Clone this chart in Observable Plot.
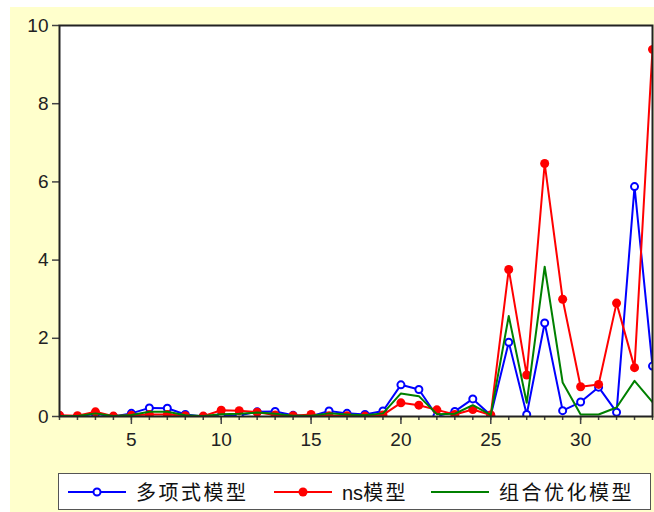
<!DOCTYPE html>
<html>
<head>
<meta charset="utf-8">
<script src="https://cdn.jsdelivr.net/npm/d3@7"></script>
<script src="https://cdn.jsdelivr.net/npm/@observablehq/plot@0.6"></script>
<style>
  body { margin: 0; background: #ffffff; }
  #panel { position: absolute; left: 10px; top: 7px; width: 644px; height: 505px; background: #FFFFCC; }
  #chart { position: absolute; left: 0; top: 0; }
  #legend {
    position: absolute; left: 48px; top: 466px; width: 591px; height: 35px;
    background: #ffffff; border: 1.5px solid #555555;
    font-family: "Liberation Sans", "Noto Sans CJK SC", sans-serif; font-size: 20px;
    color: #111;
  }
  .item { position: absolute; top: 0; height: 35px; display: flex; align-items: center; }
  .item svg { display: block; }
  .item span { margin-left: 10px; white-space: nowrap; }
  .cjk { letter-spacing: 2.5px; }
</style>
</head>
<body>
<div id="panel">
  <div id="chart"></div>
  <div id="legend"></div>
</div>
<script>
// Period index along the x axis
const periods = [1, 2, 3, 4, 5, 6, 7, 8, 9, 10, 11, 12, 13, 14, 15, 16, 17,
                 18, 19, 20, 21, 22, 23, 24, 25, 26, 27, 28, 29, 30, 31, 32, 33, 34];

// Series names
const seriesNames = ["多项式模型", "ns模型", "组合优化模型"];

// 多项式模型
const polyValues = [0.02, 0.00, 0.07, 0.00, 0.08, 0.22, 0.21, 0.05, 0.00, 0.02, 0.03, 0.12,
                    0.13, 0.03, 0.01, 0.14, 0.08, 0.05, 0.14, 0.81, 0.69, 0.01, 0.13, 0.45,
                    0.03, 1.90, 0.05, 2.39, 0.15, 0.37, 0.75, 0.11, 5.88, 1.29];
// ns模型
const nsValues = [0.03, 0.02, 0.12, 0.01, 0.03, 0.05, 0.05, 0.02, 0.01, 0.16, 0.15, 0.11,
                  0.04, 0.02, 0.05, 0.02, 0.02, 0.01, 0.04, 0.35, 0.29, 0.17, 0.05, 0.18,
                  0.04, 3.76, 1.06, 6.47, 3.00, 0.76, 0.82, 2.90, 1.25, 9.39];
// 组合优化模型
const comboValues = [0.01, 0.01, 0.08, 0.01, 0.04, 0.12, 0.12, 0.03, 0.01, 0.06, 0.07, 0.10,
                     0.07, 0.02, 0.02, 0.08, 0.05, 0.03, 0.08, 0.59, 0.52, 0.06, 0.07, 0.29,
                     0.04, 2.57, 0.35, 3.83, 0.87, 0.05, 0.05, 0.23, 0.91, 0.37];

const yTicks = [0, 2, 4, 6, 8, 10];
const xLabelTicks = [5, 10, 15, 20, 25, 30];

const colors = ["#0000FF", "#FF0000", "#008000"];

const toRows = (vals) => periods.map((p, i) => ({x: p, y: vals[i]}));
const poly = toRows(polyValues);
const ns = toRows(nsValues);
const combo = toRows(comboValues);

const chart = Plot.plot({
  width: 644,
  height: 460,
  marginLeft: 49,
  marginRight: 2,
  marginTop: 18,
  marginBottom: 51,
  style: {background: "transparent", fontFamily: "Liberation Sans, Arial, sans-serif", fontSize: "19px", color: "#222"},
  x: {domain: [1, 34], axis: null},
  y: {domain: [0, 10], axis: null},
  marks: [
    Plot.frame({fill: "#ffffff", stroke: null}),
    Plot.axisY({ticks: yTicks, tickSize: 7, tickPadding: 4, tickFormat: d3.format("d"), fontSize: 19, stroke: "#444", strokeWidth: 1.5, label: null}),
    Plot.axisX({ticks: periods, tickSize: 4, tickFormat: () => "", stroke: "#444", strokeWidth: 1.5, label: null}),
    Plot.axisX({ticks: xLabelTicks, tickSize: 8, tickPadding: 8, fontSize: 19, stroke: "#444", strokeWidth: 1.5, label: null}),
    Plot.line(poly, {x: "x", y: "y", stroke: colors[0], strokeWidth: 2, clip: true}),
    Plot.dot(poly, {x: "x", y: "y", r: 3.5, stroke: colors[0], fill: "#ffffff", strokeWidth: 2, clip: true}),
    Plot.line(ns, {x: "x", y: "y", stroke: colors[1], strokeWidth: 2, clip: true}),
    Plot.dot(ns, {x: "x", y: "y", r: 4.5, fill: colors[1], stroke: null, clip: true}),
    Plot.line(combo, {x: "x", y: "y", stroke: colors[2], strokeWidth: 2, clip: true}),
    Plot.frame({stroke: "#222", strokeWidth: 2})
  ]
});
document.getElementById("chart").appendChild(chart);

// Legend: line sample with marker, then series name (Latin part without extra spacing)
const legend = document.getElementById("legend");
const legendItems = [
  {name: seriesNames[0], color: colors[0], marker: "open", left: 9},
  {name: seriesNames[1], color: colors[1], marker: "filled", left: 215},
  {name: seriesNames[2], color: colors[2], marker: "none", left: 372}
];
const labelHtml = (name) => {
  const m = name.match(/^([A-Za-z]*)(.*)$/);
  return (m[1] ? m[1] : "") + `<span class="cjk" style="margin-left:0">${m[2]}</span>`;
};
for (const it of legendItems) {
  const div = document.createElement("div");
  div.className = "item";
  div.style.left = it.left + "px";
  let mk = "";
  if (it.marker === "open") mk = `<circle cx="29" cy="10" r="3.5" fill="#fff" stroke="${it.color}" stroke-width="2"/>`;
  if (it.marker === "filled") mk = `<circle cx="29" cy="10" r="4.5" fill="${it.color}"/>`;
  div.innerHTML = `<svg width="58" height="20"><line x1="0" x2="58" y1="10" y2="10" stroke="${it.color}" stroke-width="2"/>${mk}</svg><span>${labelHtml(it.name)}</span>`;
  legend.appendChild(div);
}
</script>
</body>
</html>
